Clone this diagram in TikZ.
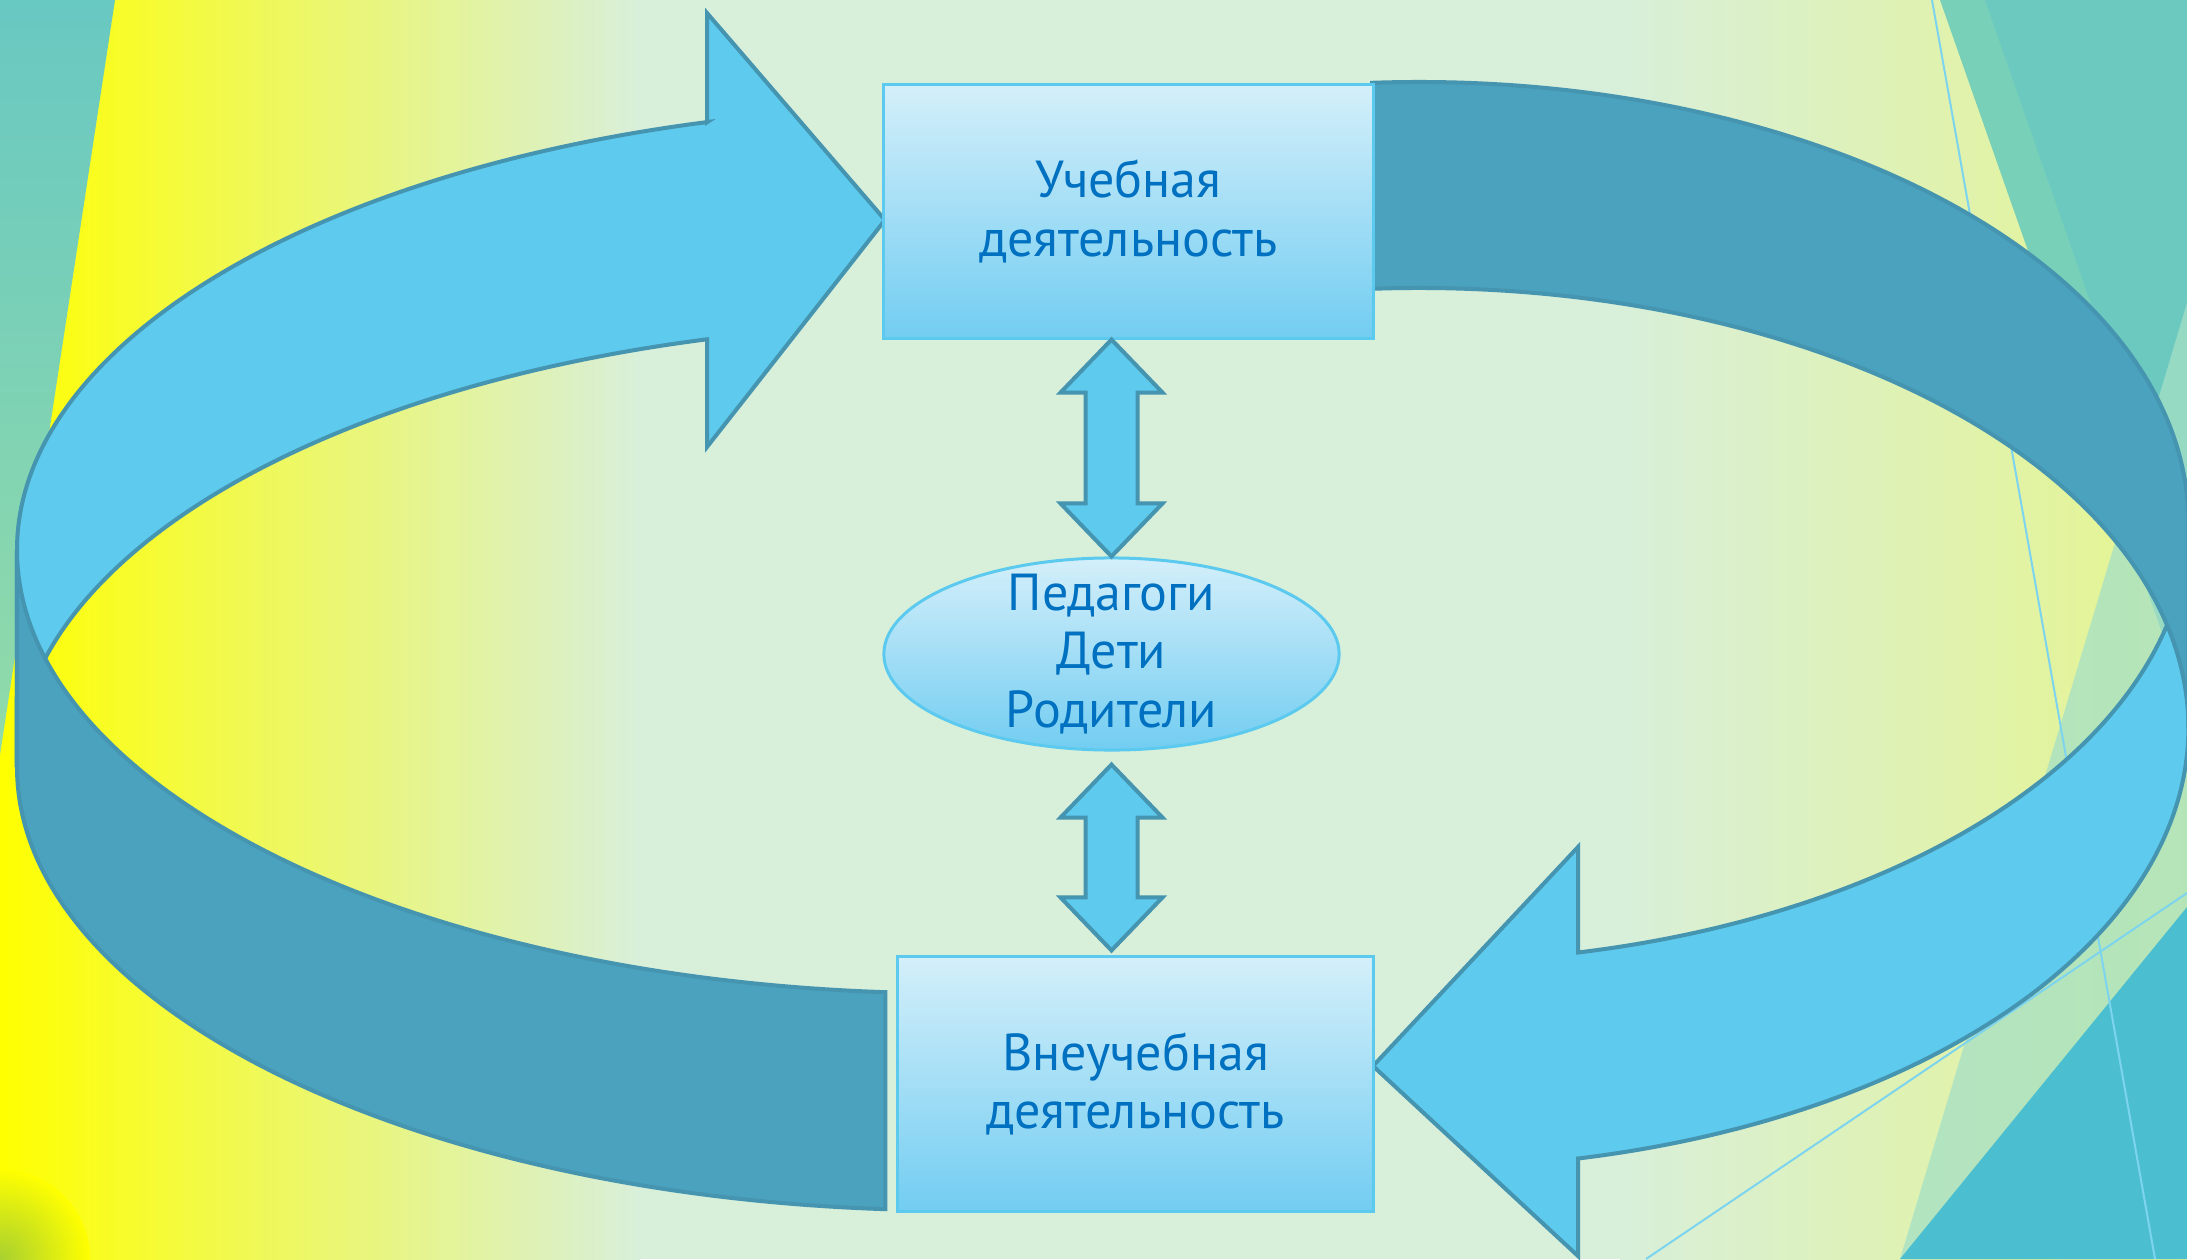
\documentclass[tikz,border=0pt]{standalone}
\usepackage{fontspec}
\setmainfont{PT Sans}
\usetikzlibrary{calc,shapes.geometric}

\definecolor{bgmint}{HTML}{D8EFDA}
\definecolor{bgyellow}{HTML}{FFFF00}
\definecolor{bgteal}{HTML}{68C8C2}
\definecolor{bggreen}{HTML}{92DBA8}
\definecolor{bgleaf}{HTML}{A8D030}
\definecolor{bgpale}{HTML}{A5E0C6}
\definecolor{bgsea}{HTML}{4BBFCF}
\definecolor{bgline}{HTML}{7DD4EE}
\definecolor{ringlight}{HTML}{5DCAEE}
\definecolor{ringdark}{HTML}{4AA2BE}
\definecolor{ringedge}{HTML}{4594B0}
\definecolor{boxtop}{HTML}{D4EFFA}
\definecolor{boxbot}{HTML}{72CDF1}
\definecolor{boxline}{HTML}{5CCAEF}
\definecolor{textblue}{HTML}{0070C0}

\def\vertarrow[#1](#2)(#3){\draw[#1] (#2) -- ++(51,-53) -- ++(-25,0) -- ($(#3)+(26,53)$) -- ++(25,0) -- (#3) -- ++(-51,53) -- ++(25,0) -- ($(#2)+(-26,-53)$) -- ++(-25,0) -- cycle;}

\tikzset{
	stage/.style={draw=boxline, line width=0.03cm, top color=boxtop, bottom color=boxbot, inner sep=0pt},
	stagetext/.style={text=textblue, align=center, font=\fontsize{14.8}{16.6}\selectfont},
	ring/.style={fill=ringlight, draw=ringedge, line width=0.04cm},
	ringside/.style={fill=ringdark, draw=ringedge, line width=0.04cm},
	dblarr/.style={fill=ringlight, draw=ringedge, line width=0.04cm}
}

\begin{document}
\begin{tikzpicture}[x=0.01cm, y=0.01cm]
			%%%%% START %%%%%
			
			\useasboundingbox (0, 0) rectangle (2187, 1259);
			\clip (0, 0) rectangle (2187, 1259);
			
			\fill[bgmint] (0, 0) rectangle (2187, 1259);
			\shade[left color=bgyellow, right color=bgmint] (0, 0) rectangle (640, 1259);
			\shade[left color=bgmint, right color=bgyellow!35!bgmint] (1620, 0) rectangle (2187, 1259);
			\shade[inner color=bgleaf, outer color=bgyellow] (0, 0) circle (0.9cm);
			\shade[top color=bgteal, bottom color=bggreen] (0, 1259) -- (115, 1259) -- (0, 504) -- cycle;
			
			\fill[bgteal!60!bggreen] (1940, 1259) -- (2187, 1259) -- (2187, 555) -- cycle;
			\fill[bgteal, opacity=0.8] (1985, 1259) -- (2187, 1259) -- (2187, 680) -- cycle;
			\fill[bgpale, opacity=0.75] (1900, 0) -- (2187, 956) -- (2187, 0) -- cycle;
			\fill[bgsea] (1900, 0) -- (2187, 352) -- (2187, 0) -- cycle;
			\draw[bgline, line width=0.02cm] (1932, 1259) -- (2155, 0);
			\draw[bgline, line width=0.02cm] (1646, 0) -- (2187, 366);
			
			\draw[ring] (707, 1136.7) -- (707, 1246) -- (885, 1039) -- (707, 812) -- (707, 919.7)
				arc[start angle=105.1, end angle=180, x radius=9.33cm, y radius=4.43cm]
				-- (17, 709)
				arc[start angle=180, end angle=105.1, x radius=9.33cm, y radius=4.43cm] -- cycle;
			\draw[ring] (1578, 306.5) -- (1578, 412) -- (1373, 193) -- (1578, 3) -- (1578, 100.5)
				arc[start angle=-78.07, end angle=0, x radius=7.69cm, y radius=4.40cm]
				-- ++(0, 206)
				arc[start angle=0, end angle=-78.07, x radius=7.69cm, y radius=4.40cm] -- cycle;
			
			\draw[ringside] (17, 709)
				arc[start angle=180, end angle=266, x radius=9.33cm, y radius=4.43cm]
				-- ++(0, -217)
				arc[start angle=266, end angle=180, x radius=9.33cm, y radius=4.43cm] -- cycle;
			\draw[ringside] (1372, 1176.2)
				arc[start angle=93.5, end angle=0, x radius=7.69cm, y radius=4.40cm]
				-- ++(0, -206)
				arc[start angle=0, end angle=93.5, x radius=7.69cm, y radius=4.40cm] -- cycle;
			
			\node[stage, stagetext, minimum width=4.89cm, minimum height=2.53cm] (ucheb) at (1128.5, 1047.5) {Учебная\\деятельность};
			\node[stage, ellipse, minimum width=4.55cm, minimum height=1.92cm] (ped) at (1111.5, 605) {};
			\node[stagetext] (pedtext) at (ped) {Педагоги\\Дети\\Родители};
			\node[stage, stagetext, minimum width=4.75cm, minimum height=2.54cm] (vneucheb) at (1135.5, 175) {Внеучебная\\деятельность};
			
			\coordinate (up1) at (ped.north |- ucheb.south);
			\coordinate (dn1) at ($(ped.south)+(0, -13)$);
			\coordinate (dn2) at ($(ped.north |- vneucheb.north)+(0, 5)$);
			\vertarrow[dblarr](up1)(ped.north)
			\vertarrow[dblarr](dn1)(dn2)
			
			%%%%% END %%%%%
\end{tikzpicture}
\end{document}
